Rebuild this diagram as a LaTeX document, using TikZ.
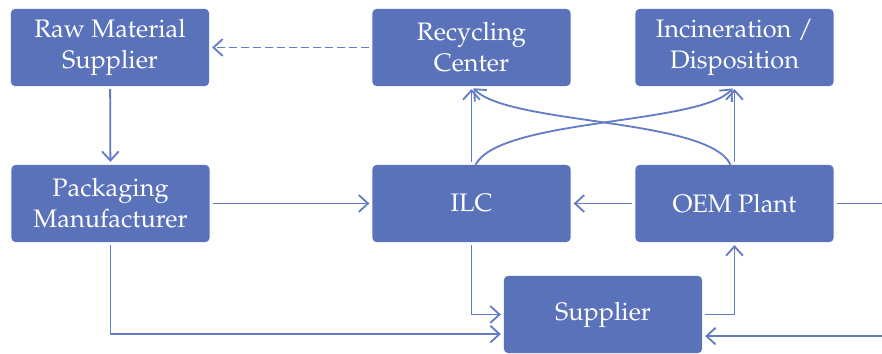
\documentclass[tikz,border=0pt]{standalone}
\usepackage[T1]{fontenc}
\usepackage{mathpazo}
\usepackage{tikz}
\usetikzlibrary{arrows.meta,calc,positioning}
\usepackage{xcolor}
\definecolor{boxblue}{RGB}{90,114,185}
\definecolor{lineblue}{RGB}{100,124,196}

\begin{document}
\begin{tikzpicture}[
    x=0.025cm,y=-0.025cm,
    b/.style={rectangle,rounded corners=1mm,fill=boxblue,text=white,align=center,
      minimum width=4.95cm,minimum height=1.925cm,inner sep=0pt,
      font=\fontsize{18}{22}\selectfont},
    e/.style={-{Straight Barb[length=2.3mm,width=4.2mm]},line width=1.3pt,lineblue,
      shorten <=2pt,shorten >=2pt}
  ]
    \useasboundingbox (0,0) rectangle (882,354);
    \clip (0,0) rectangle (882,354);
    \node[b] (raw) at (110,47.5) {Raw Material\\Supplier};
    \node[b] (recyc) at (471.5,47.5) {Recycling\\Center};
    \node[b] (incin) at (734.5,47.5) {Incineration /\\Disposition};
    \node[b] (pack) at (110.5,203.5) {Packaging\\Manufacturer};
    \node[b] (ilc) at (471.5,203.5) {ILC};
    \node[b] (oem) at (734.5,203.5) {OEM Plant};
    \node[b] (supp) at (603,314.5) {Supplier};
    \coordinate (bend) at (910,0);
    \draw[e] (raw) -- (pack);
    \draw[e,dash pattern=on 2mm off 1mm] (recyc) -- (raw);
    \draw[e] (pack) -- (ilc);
    \draw[e] (oem) -- (ilc);
    \draw[e] (ilc) -- (recyc);
    \draw[e] (oem) -- (incin);
    \draw[e,shorten <=0pt] ([xshift=1mm]ilc.north) .. controls (500,118) and (700,125) .. (incin.south);
    \draw[e,shorten <=0pt] ([xshift=-1mm]oem.north) .. controls (709,118) and (509,125) .. (recyc.south);
    \draw[e] (pack.south) |- ([yshift=-0.49cm]supp.west);
    \draw[e] (ilc.south) |- (supp.west);
    \draw[e] (supp.east) -| (oem.south);
    \draw[e] (oem.east) -- (oem.east -| bend) |- ([yshift=-0.54cm]supp.east);
  \end{tikzpicture}
\end{document}
